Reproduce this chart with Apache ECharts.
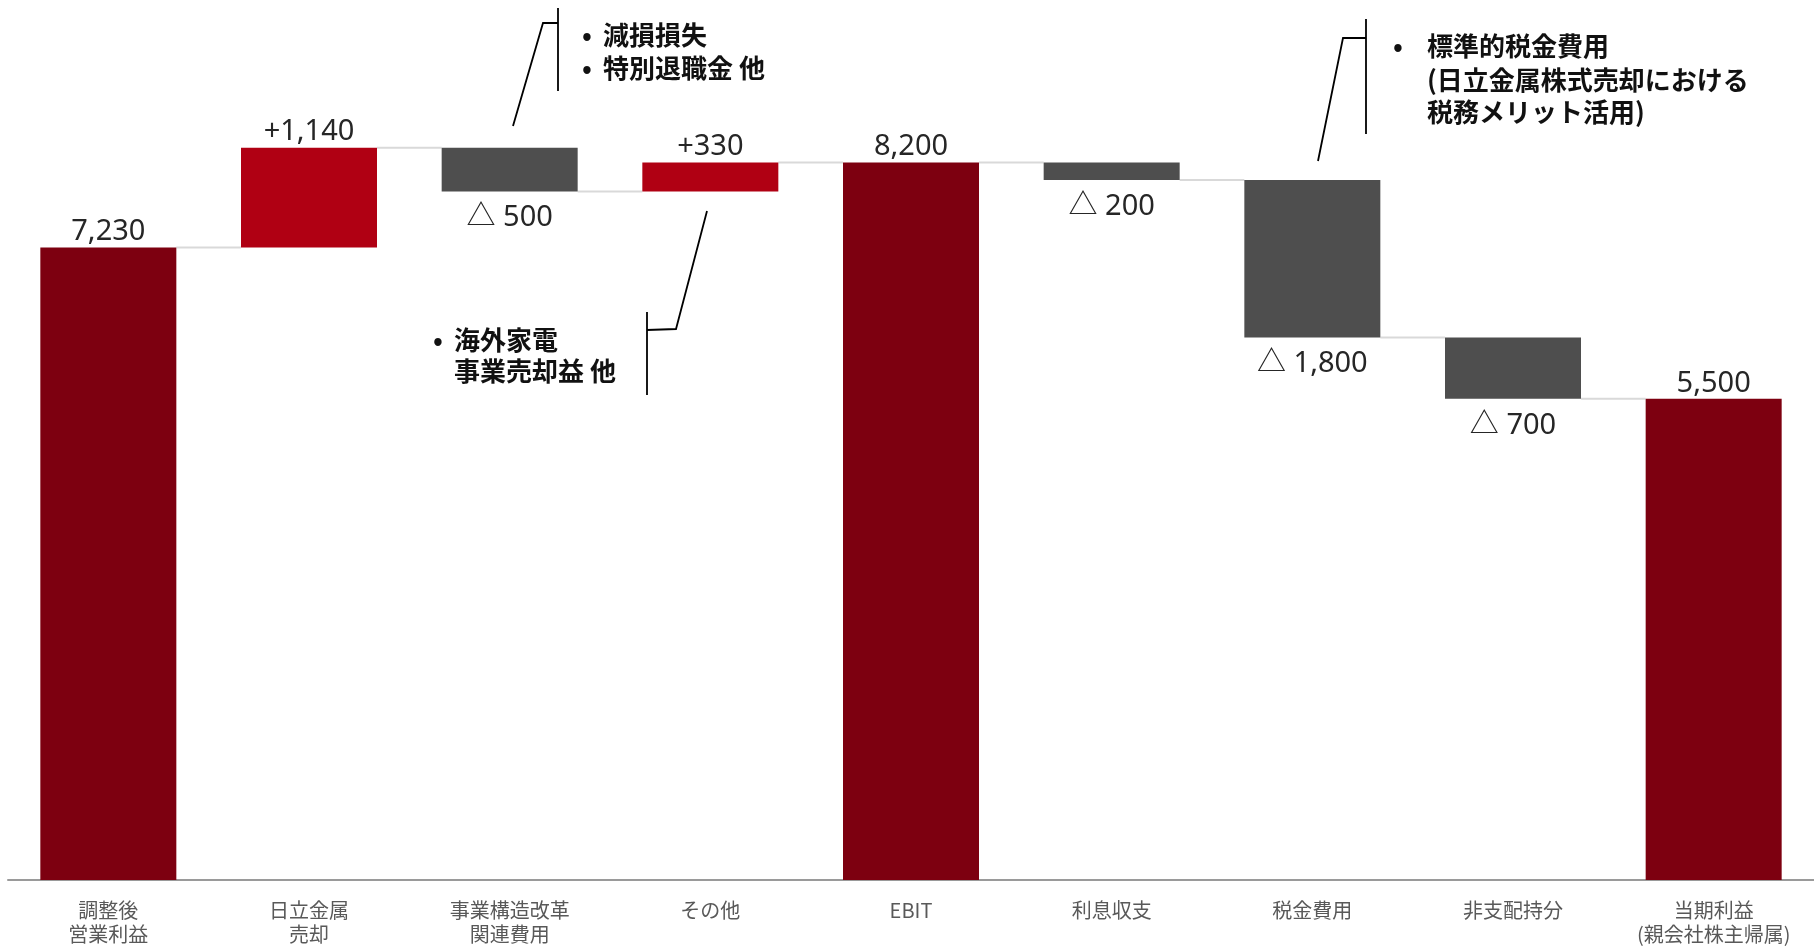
<!DOCTYPE html>
<html>
<head>
<meta charset="utf-8">
<script src="https://cdn.jsdelivr.net/npm/echarts@6/dist/echarts.min.js"></script>
<style>
html,body{margin:0;padding:0;background:#fff;}
#chart{width:1814px;height:946px;}
</style>
</head>
<body>
<div id="chart"></div>
<script>
var categories = ['調整後\n営業利益', '日立金属\n売却', '事業構造改革\n関連費用', 'その他', 'EBIT', '利息収支', '税金費用', '非支配持分', '当期利益\n(親会社株主帰属)'];
var values = [7230, 1140, -500, 330, 8200, -200, -1800, -700, 5500];
var kinds = ['total', 'delta', 'delta', 'delta', 'total', 'delta', 'delta', 'delta', 'total'];

var COLOR_TOTAL = '#7d0010';
var COLOR_UP = '#b00013';
var COLOR_DOWN = '#4e4e4e';

var baseData = [], barData = [], levels = [];
var running = 0;
for (var i = 0; i < values.length; i++) {
  var v = values[i];
  var color, base, h, neg = false;
  if (kinds[i] === 'total') {
    base = 0; h = v; running = v; color = COLOR_TOTAL;
  } else if (v >= 0) {
    base = running; h = v; running += v; color = COLOR_UP;
  } else {
    base = running + v; h = -v; running += v; color = COLOR_DOWN; neg = true;
  }
  baseData.push(base);
  barData.push({
    value: h,
    itemStyle: { color: color },
    label: neg ? { position: 'bottom', distance: 12 } : { position: 'top', distance: 1 }
  });
  levels.push(running);
}
var connData = [];
for (var j = 0; j < values.length - 1; j++) connData.push([j, levels[j]]);

function fmt(n) { return Math.abs(n).toLocaleString('en-US'); }

var BAR_W = 136;
var chart = echarts.init(document.getElementById('chart'));
var black = '#000';
var annFont = 'bold 26px "Noto Sans CJK JP"';
function txt(x, y, s) {
  return { type: 'text', x: x, y: y, style: { text: s, font: annFont, fill: '#111', textVerticalAlign: 'middle', textAlign: 'left' } };
}
function poly(pts) {
  return { type: 'polyline', shape: { points: pts }, style: { stroke: black, lineWidth: 1.8, fill: null } };
}
chart.setOption({
  animation: false,
  grid: { left: 8, right: 0, top: 5, bottom: 66, containLabel: false },
  xAxis: {
    type: 'category',
    data: categories,
    axisTick: { show: false },
    axisLine: { lineStyle: { color: '#9a9a9a', width: 2 } },
    axisLabel: { color: '#595959', fontSize: 20, lineHeight: 24, margin: 18, fontFamily: '"Noto Sans CJK JP"', interval: 0 }
  },
  yAxis: { type: 'value', min: 0, max: 10000, show: false, splitLine: { show: false } },
  series: [
    {
      type: 'bar', stack: 'w', data: baseData, barWidth: BAR_W,
      itemStyle: { color: 'transparent' }, silent: true
    },
    {
      type: 'bar', stack: 'w', data: barData, barWidth: BAR_W,
      label: {
        show: true,
        fontSize: 29, color: '#262626', fontFamily: '"Noto Sans", "Noto Sans CJK JP"',
        formatter: function (p) {
          var i = p.dataIndex, v = values[i];
          if (kinds[i] === 'total') return fmt(v);
          return v >= 0 ? '+' + fmt(v) : '△ ' + fmt(v);
        }
      }
    },
    {
      type: 'custom', data: connData, encode: { x: 0, y: 1 }, silent: true, z: 1,
      renderItem: function (params, api) {
        var p = api.coord([api.value(0), api.value(1)]);
        var band = api.size([1, 0])[0];
        return {
          type: 'line',
          shape: { x1: p[0] + BAR_W / 2, y1: p[1], x2: p[0] + band - BAR_W / 2, y2: p[1] },
          style: { stroke: '#d9d9d9', lineWidth: 2 }
        };
      }
    }
  ],
  graphic: [
    poly([[513, 126], [543, 23], [558, 23]]),
    poly([[558, 8], [558, 91]]),
    txt(582, 35, '•'), txt(603, 35, '減損損失'),
    txt(582, 68, '•'), txt(603, 68, '特別退職金 他'),

    poly([[647, 312], [647, 395]]),
    poly([[647, 330], [676, 329], [707, 211]]),
    txt(433, 340, '•'), txt(454, 340, '海外家電'),
    txt(454, 371, '事業売却益 他'),

    poly([[1318, 161], [1343, 38], [1366, 38]]),
    poly([[1366, 19], [1366, 134]]),
    txt(1393, 46, '•'), txt(1427, 46, '標準的税金費用'),
    txt(1427, 80, '(日立金属株式売却における'),
    txt(1427, 112, '税務メリット活用)')
  ]
});
</script>
</body>
</html>
